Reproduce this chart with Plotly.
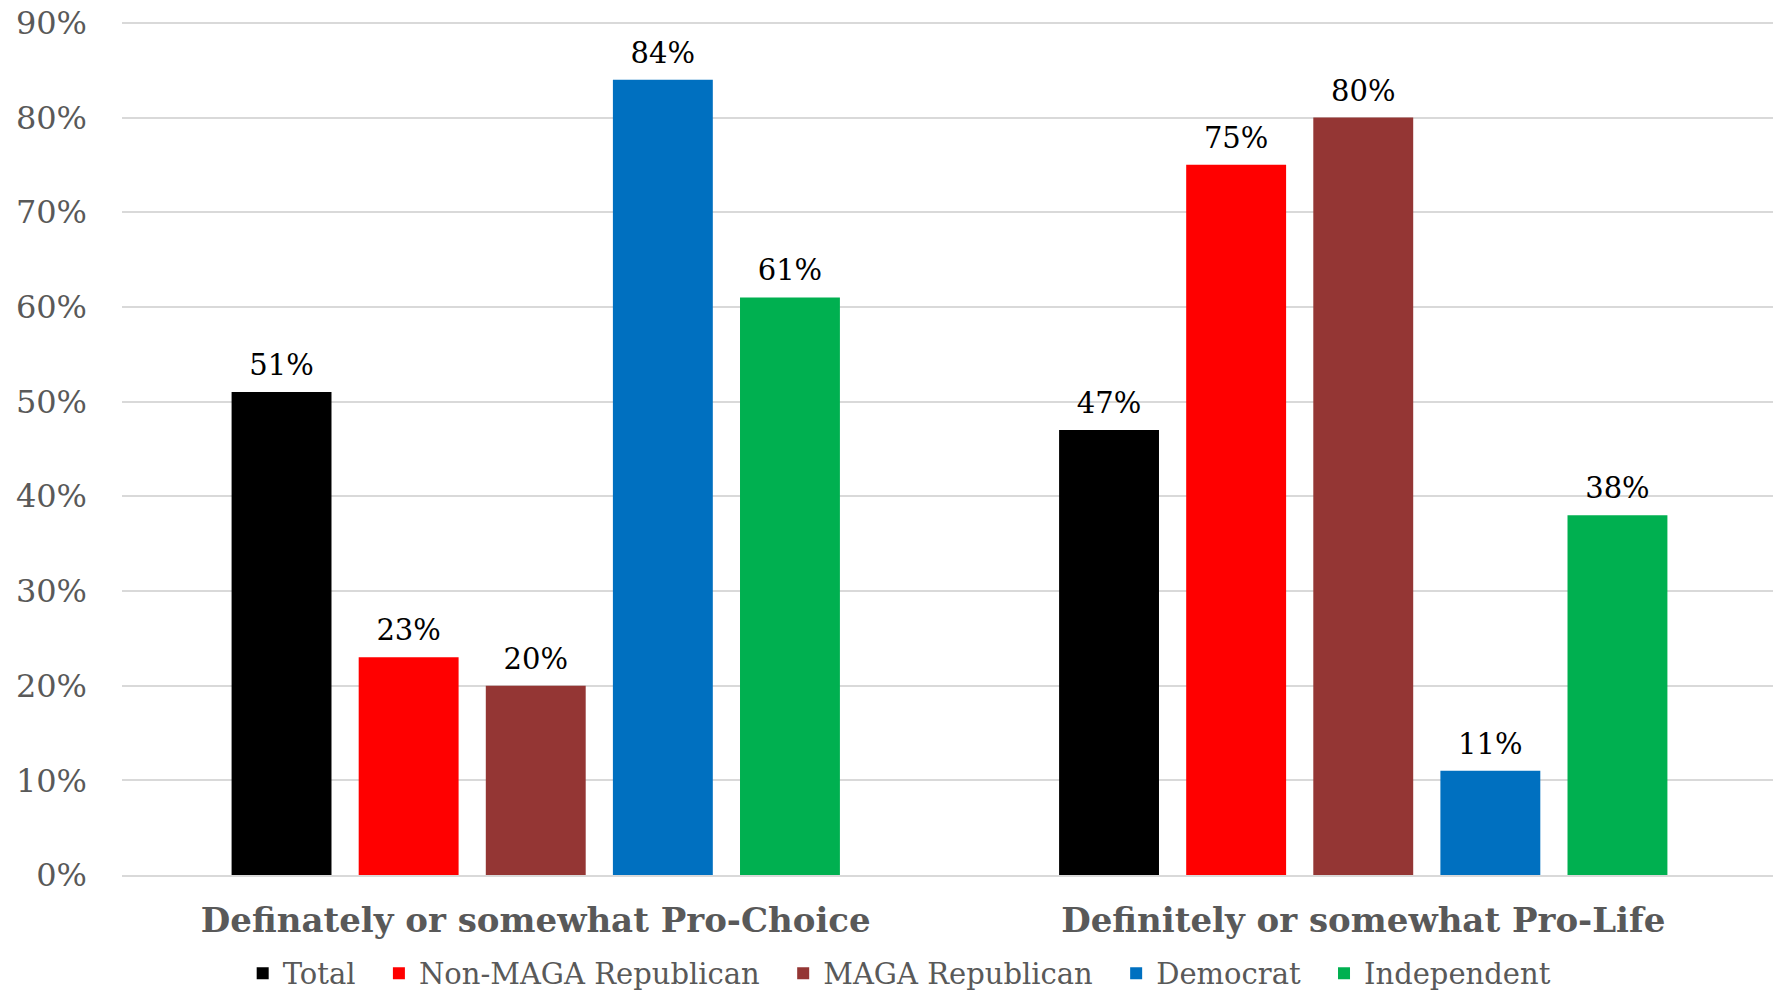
import plotly.graph_objects as go

categories = ["Definately or somewhat Pro-Choice", "Definitely or somewhat Pro-Life"]
series_names = ["Total", "Non-MAGA Republican", "MAGA Republican", "Democrat", "Independent"]
total = [0.51, 0.47]
non_maga = [0.23, 0.75]
maga = [0.20, 0.80]
democrat = [0.84, 0.11]
independent = [0.61, 0.38]
colors = ["#000000", "#FF0000", "#943634", "#0070C0", "#00B050"]
tick_vals = [0, 0.1, 0.2, 0.3, 0.4, 0.5, 0.6, 0.7, 0.8, 0.9]
tick_text = ["0%", "10%", "20%", "30%", "40%", "50%", "60%", "70%", "80%", "90%"]

FONT = "DejaVu Serif"
PAD = "\u00a0" * 2
fig = go.Figure()
for i, (name, vals, col) in enumerate(zip(series_names, [total, non_maga, maga, democrat, independent], colors)):
    fig.add_trace(go.Bar(
        name=name + PAD, x=categories, y=vals, marker_color=col, marker_line_width=0,
        offsetgroup=str(i), alignmentgroup="a",
    ))
for i, vals in enumerate([total, non_maga, maga, democrat, independent]):
    fig.add_trace(go.Scatter(
        x=categories, y=vals, mode="markers+text", showlegend=False, hoverinfo="skip",
        marker=dict(size=14, opacity=0), offsetgroup=str(i), alignmentgroup="a",
        text=[f"{round(v*100)}%" for v in vals], textposition="top center",
        textfont=dict(family=FONT, size=29, color="#000000"), cliponaxis=False,
    ))

# page body has an 8px margin, so the figure is sized to fill the remaining window
fig.update_layout(
    width=1773, height=983,
    paper_bgcolor="white", plot_bgcolor="white",
    barmode="group", bargap=0.232, bargroupgap=0.214,
    scattermode="group", scattergap=0.232,
    margin=dict(l=114, r=4, t=12, b=116, autoexpand=False),
    font=dict(family=FONT, color="#595959"),
    showlegend=True,
    legend=dict(orientation="h", x=0.508, xanchor="center", xref="container",
                y=0.018, yanchor="middle", yref="container",
                font=dict(family=FONT, size=29, color="#595959"), itemwidth=30,
                traceorder="normal"),
    xaxis=dict(tickfont=dict(family=FONT, size=34, color="#595959", weight="bold"),
               showline=True, linecolor="#D9D9D9", linewidth=2, ticks="",
               ticklabelstandoff=14, automargin=False),
    yaxis=dict(range=[0, 0.903], tickvals=tick_vals, ticktext=tick_text,
               tickfont=dict(family=FONT, size=32, color="#595959"),
               showgrid=True, gridcolor="#D9D9D9", gridwidth=2, zeroline=False,
               ticklabelstandoff=34, automargin=False, ticklabeloverflow="allow"),
)
fig.write_html("out.html")
